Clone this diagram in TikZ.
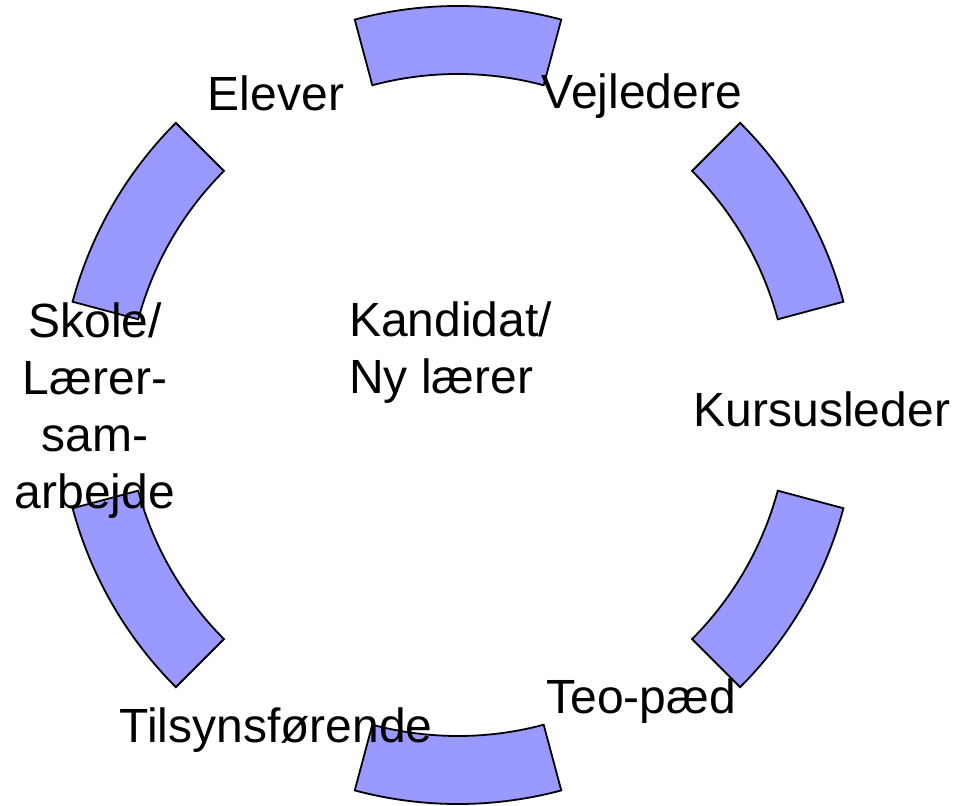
\documentclass[tikz,border=0pt]{standalone}
\usepackage{fontspec}
\setmainfont{Liberation Sans}
\definecolor{segfill}{HTML}{9999FF}
\tikzset{
  segfillstyle/.style={fill=segfill},
  segline/.style={draw=black, line width=1.8pt, line join=miter},
  lbl/.style={inner sep=0pt, font=\fontsize{48}{57}\selectfont, text=black},
}
\begin{document}
\begin{tikzpicture}[x=1pt,y=1pt]
\useasboundingbox (0,0) rectangle (957,805);
\coordinate (c) at (458,400);
% fills
\foreach \a in {90,30,-30,-90,210,150} {
  \path[segfillstyle] ([shift={(\a-15:399pt)}]c) arc[start angle=\a-15, end angle=\a+15, radius=399pt]
    -- ([shift={(\a+15:331pt)}]c) arc[start angle=\a+15, end angle=\a-15, radius=331pt] -- cycle;
}
% labels
\node[lbl, anchor=base] (elever) at (276,694) {Elever};
\node[lbl, anchor=base] (vejledere) at (642,696) {Vejledere};
\node[lbl, anchor=base] (kursus) at (822,378) {Kursusleder};
\node[lbl, anchor=base] (teo) at (641,92) {Teo-pæd};
\node[lbl, anchor=base] (tilsyn) at (276,63) {Tilsynsførende};
\node[lbl, anchor=north, align=center] (skole) at (95,502) {Skole/\\Lærer-\\sam-\\arbejde};
\node[lbl, anchor=north west, align=left] (kandidat) at (349,503) {Kandidat/\\Ny lærer};
% outlines
\foreach \a in {90,30,-30,-90,210,150} {
  \path[segline] ([shift={(\a-15:399pt)}]c) arc[start angle=\a-15, end angle=\a+15, radius=399pt]
    -- ([shift={(\a+15:331pt)}]c) arc[start angle=\a+15, end angle=\a-15, radius=331pt] -- cycle;
}
\end{tikzpicture}
\end{document}
